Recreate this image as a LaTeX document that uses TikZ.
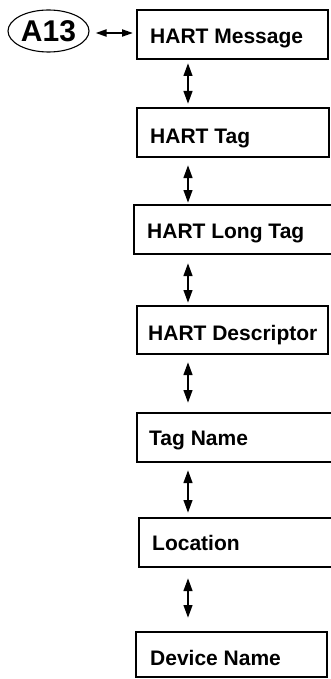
\documentclass[tikz,border=0pt]{standalone}
\usepackage{fontspec}
\setmainfont{Liberation Sans}
\usetikzlibrary{arrows.meta,shapes.geometric}
\tikzset{
  boxst/.style={draw,line width=2.8pt,rectangle,outer sep=0pt,inner sep=0pt,anchor=north west},
  lbl/.style={anchor=base west,inner sep=0pt,font=\fontsize{21}{24}\selectfont\bfseries},
  varr/.style={line width=2.6pt,{Triangle[length=13pt,width=8.5pt]}-{Triangle[length=13pt,width=8.5pt]}},
  harr/.style={line width=2pt,{Triangle[length=11pt,width=7pt]}-{Triangle[length=11pt,width=7pt]}},
}
\begin{document}
\begin{tikzpicture}[x=1pt,y=-1pt]
\useasboundingbox (0,0) rectangle (331,679);
\clip (0,0) rectangle (331,679);
% boxes
\node[boxst,minimum width=191pt,minimum height=49pt] (b1) at (137,10) {};
\node[boxst,minimum width=192pt,minimum height=49pt] (b2) at (137,108) {};
\node[boxst,minimum width=215pt,minimum height=49pt] (b3) at (134,205) {};
\node[boxst,minimum width=191pt,minimum height=48pt] (b4) at (137,306) {};
\node[boxst,minimum width=215pt,minimum height=49pt] (b5) at (137,413) {};
\node[boxst,minimum width=215pt,minimum height=49pt] (b6) at (139,518) {};
\node[boxst,minimum width=191pt,minimum height=45pt] (b7) at (136,632) {};
% labels
\node[lbl] (t1) at (150,44) {HART Message};
\node[lbl] (t2) at (150,144) {HART Tag};
\node[lbl] (t3) at (147,238) {HART Long Tag};
\node[lbl] (t4) at (148,340) {HART Descriptor};
\node[lbl] (t5) at (149,445) {Tag Name};
\node[lbl] (t6) at (152,550) {Location};
\node[lbl] (t7) at (150,665) {Device Name};
% A13 ellipse
\node[draw,ellipse,line width=1.1pt,minimum width=81pt,minimum height=42pt,inner sep=0pt,
      font=\fontsize{30}{32}\selectfont\bfseries,text height=21.6pt,text depth=0pt] (a13) at (48.5,31) {A13};
\coordinate (hy) at (0,33);
\draw[harr,shorten <=6pt,shorten >=4pt] (a13.east |- hy) -- (b1.west |- hy);
% vertical arrows
\coordinate (ax) at (188,0);
\draw[varr,shorten <=4pt,shorten >=4pt] (b1.south -| ax) -- (b2.north -| ax);
\draw[varr,shorten <=8pt,shorten >=2pt] (b2.south -| ax) -- (b3.north -| ax);
\draw[varr,shorten <=9pt,shorten >=3pt] (b3.south -| ax) -- (b4.north -| ax);
\draw[varr,shorten <=8pt,shorten >=10pt] (b4.south -| ax) -- (b5.north -| ax);
\draw[varr,shorten <=8pt,shorten >=5pt] (b5.south -| ax) -- (b6.north -| ax);
\draw[varr,shorten <=11pt,shorten >=14pt] (b6.south -| ax) -- (b7.north -| ax);
\end{tikzpicture}
\end{document}
